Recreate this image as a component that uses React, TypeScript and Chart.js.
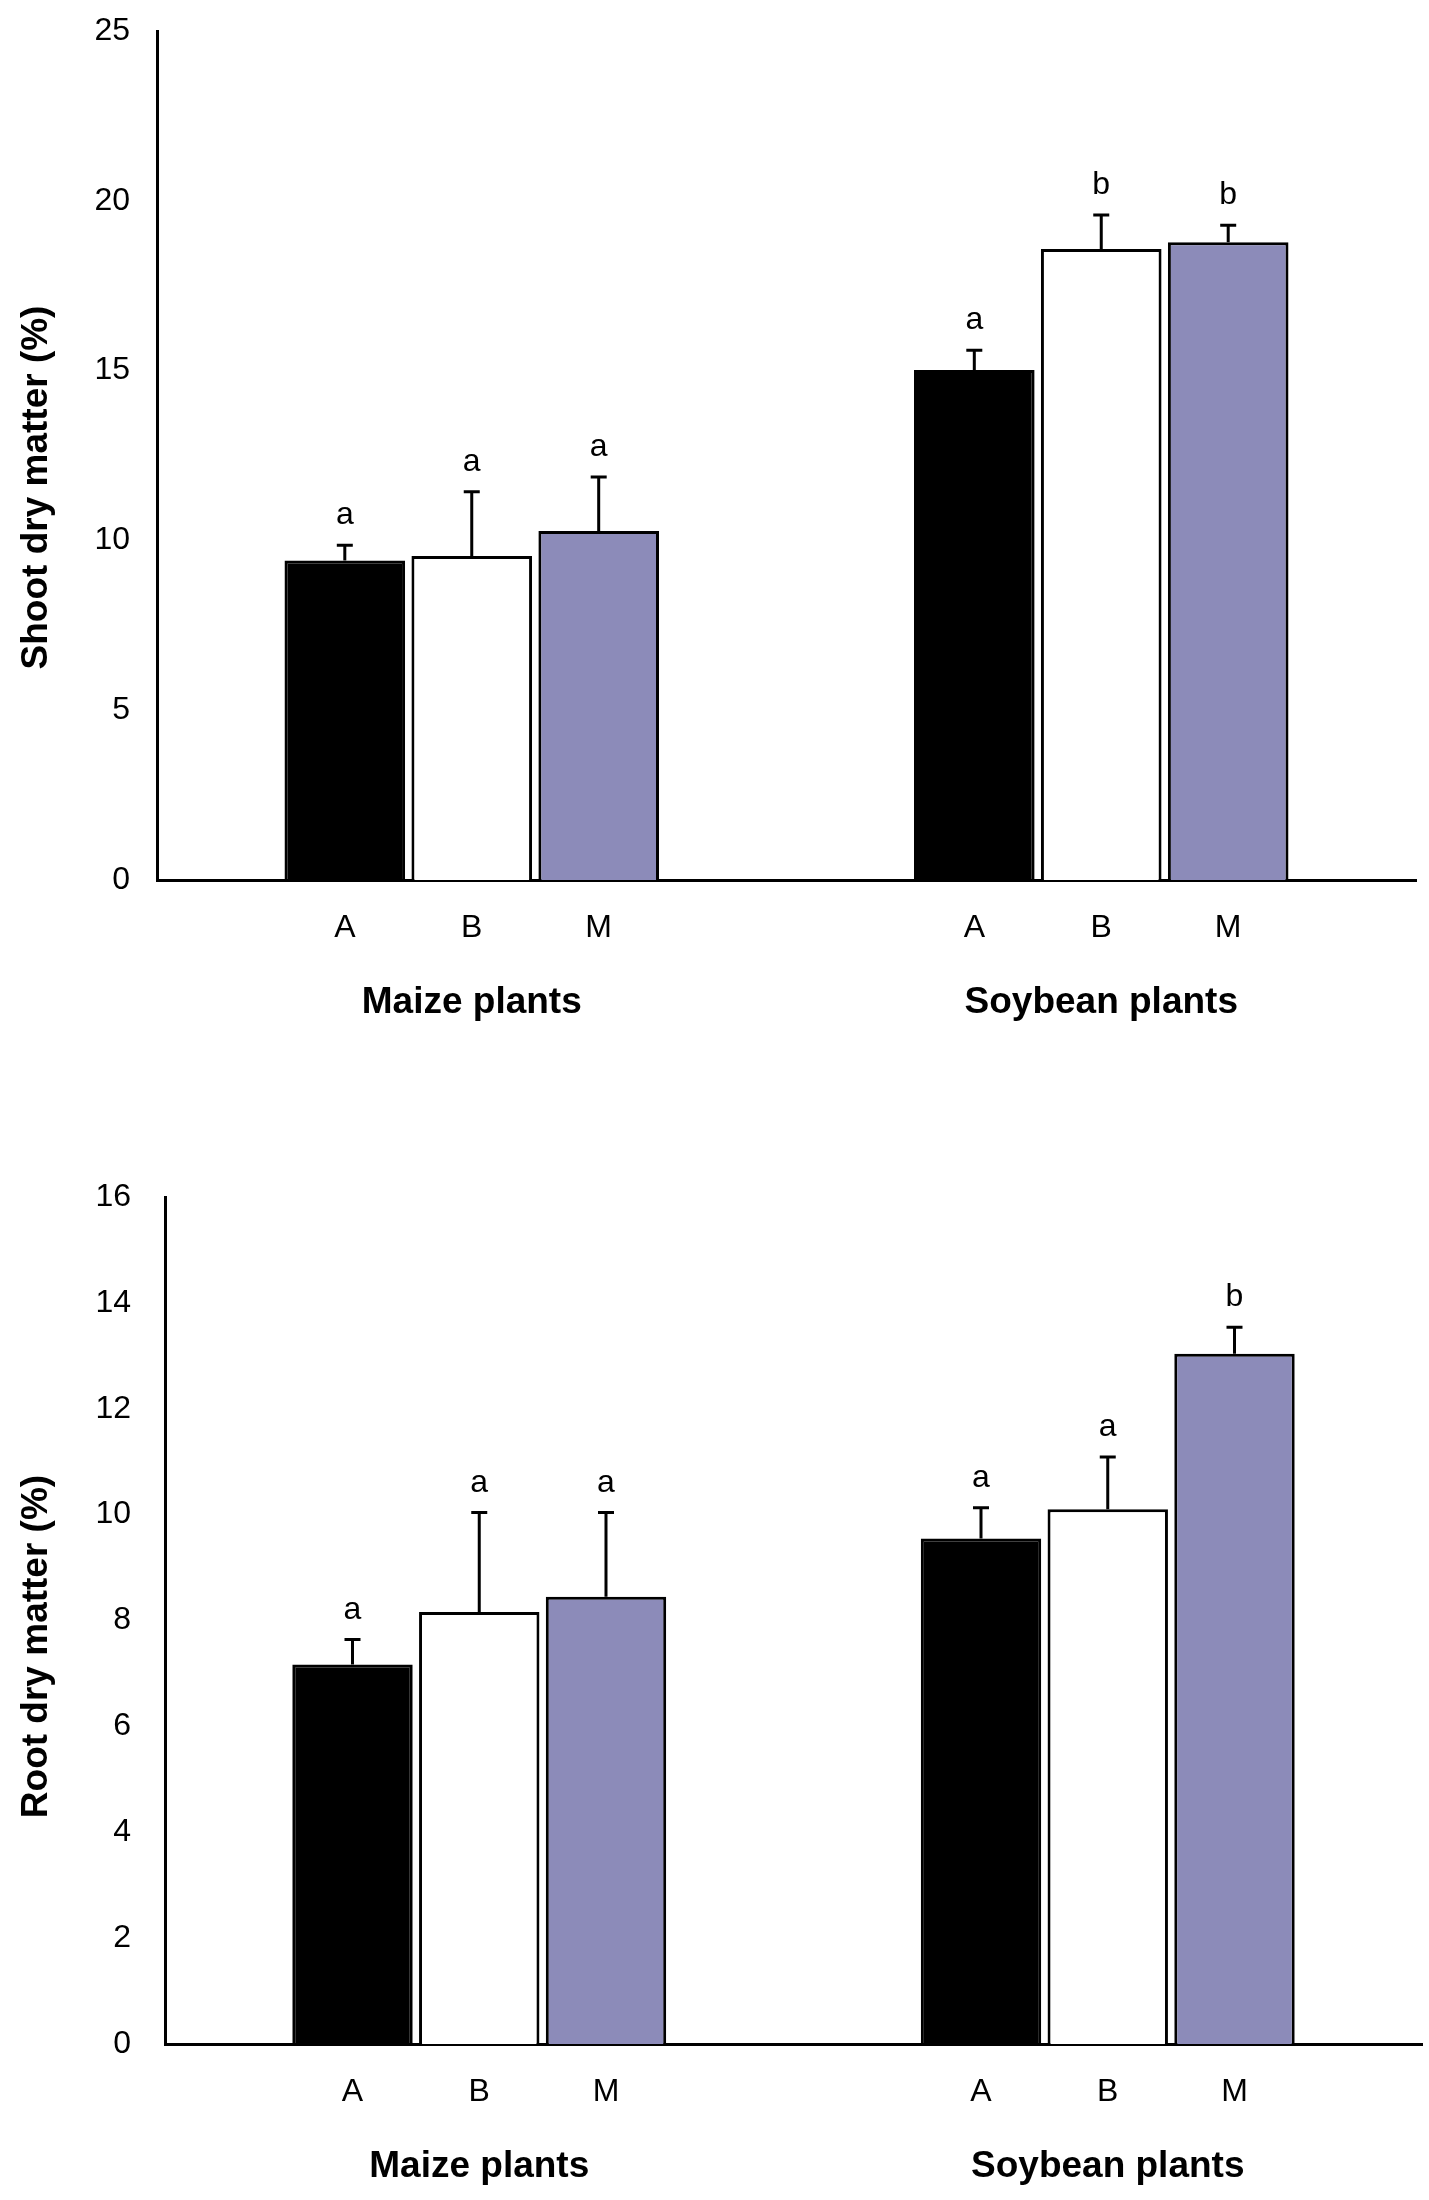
import { useEffect, useRef } from "react"
import { Chart, registerables } from "chart.js"

Chart.register(...registerables)

const FONT = "'Liberation Sans', Arial, sans-serif"

// categories and treatments
const groups = ["Maize plants", "Soybean plants"]
const treatments = ["A", "B", "M"]
const barColors = ["#000000", "#ffffff", "#8c8bb9"]

// shoot dry matter (%)
const shootA = [9.41, 15.02]
const shootB = [9.54, 18.58]
const shootM = [10.28, 18.78]
const shootErrA = [0.45, 0.58]
const shootErrB = [1.89, 1.0]
const shootErrM = [1.59, 0.5]
const shootLettersA = ["a", "a"]
const shootLettersB = ["a", "b"]
const shootLettersM = ["a", "b"]

// root dry matter (%)
const rootA = [7.17, 9.55]
const rootB = [8.16, 10.1]
const rootM = [8.45, 13.04]
const rootErrA = [0.47, 0.58]
const rootErrB = [1.88, 0.99]
const rootErrM = [1.59, 0.5]
const rootLettersA = ["a", "a"]
const rootLettersB = ["a", "a"]
const rootLettersM = ["a", "b"]

type PanelProps = {
  title: string
  values: number[][]
  errors: number[][]
  letters: string[][]
  yMax: number
  yStep: number
  height: number
  axisWidth: number
  tickGap: number
  pad: { top: number; bottom: number; right: number }
  catPct: number
  titleShift: number
}

function makeAnnotations(p: PanelProps) {
  return {
    id: "annotations",
    afterDatasetsDraw(chart: any) {
      const ctx = chart.ctx
      const yScale = chart.scales.y
      const xScale = chart.scales.x
      const area = chart.chartArea
      ctx.save()
      ctx.fillStyle = "#000"
      ctx.strokeStyle = "#000"
      ctx.lineWidth = 3
      ctx.textAlign = "center"
      ctx.textBaseline = "alphabetic"

      p.values.forEach((series, di) => {
        const meta = chart.getDatasetMeta(di)
        series.forEach((v, i) => {
          const x = meta.data[i].x
          const top = yScale.getPixelForValue(v)
          const errTop = yScale.getPixelForValue(v + p.errors[di][i])
          // error bar, upper half only
          ctx.beginPath()
          ctx.moveTo(x, top)
          ctx.lineTo(x, errTop)
          ctx.moveTo(x - 8, errTop)
          ctx.lineTo(x + 8, errTop)
          ctx.stroke()
          ctx.font = `32px ${FONT}`
          ctx.fillText(p.letters[di][i], x, errTop - 21)
          ctx.fillText(treatments[di], x, area.bottom + 57)
        })
      })

      ctx.font = `bold 37px ${FONT}`
      groups.forEach((g, i) => {
        ctx.fillText(g, xScale.getPixelForValue(i), area.bottom + 133)
      })

      // y axis title
      ctx.translate(47, (area.top + area.bottom) / 2 + p.titleShift)
      ctx.rotate(-Math.PI / 2)
      ctx.fillText(p.title, 0, 0)
      ctx.restore()
    },
  }
}

function BarPanel(p: PanelProps) {
  const chartRef = useRef<HTMLCanvasElement>(null)
  const chartInstance = useRef<Chart | null>(null)

  useEffect(() => {
    if (!chartRef.current) return
    if (chartInstance.current) chartInstance.current.destroy()

    const ctx = chartRef.current.getContext("2d")
    if (!ctx) return

    chartInstance.current = new Chart(ctx, {
      type: "bar",
      data: {
        labels: groups,
        datasets: treatments.map((t, i) => ({
          label: t,
          data: p.values[i],
          backgroundColor: barColors[i],
          borderColor: "#000000",
          borderWidth: 3,
          categoryPercentage: p.catPct,
          barPercentage: 0.95,
        })),
      },
      options: {
        responsive: false,
        animation: false,
        devicePixelRatio: 1,
        layout: {
          padding: { left: 0, top: p.pad.top, bottom: p.pad.bottom, right: p.pad.right },
        },
        plugins: {
          legend: { display: false },
          tooltip: { enabled: false },
          title: { display: false },
        },
        scales: {
          x: {
            grid: { display: false },
            border: { display: true, color: "#000", width: 3 },
            ticks: { display: false },
            afterFit: (scale: any) => {
              scale.height = 0
              scale.paddingLeft = 0
              scale.paddingRight = 0
            },
          },
          y: {
            min: 0,
            max: p.yMax,
            grid: { display: false, drawTicks: false },
            border: { display: true, color: "#000", width: 3 },
            ticks: {
              stepSize: p.yStep,
              padding: p.tickGap,
              color: "#000",
              font: { family: FONT, size: 32 },
            },
            afterFit: (scale: any) => {
              scale.width = p.axisWidth
              scale.paddingTop = 0
              scale.paddingBottom = 0
            },
          },
        },
      },
      plugins: [makeAnnotations(p)],
    })

    return () => {
      if (chartInstance.current) {
        chartInstance.current.destroy()
        chartInstance.current = null
      }
    }
  }, [])

  return (
    <canvas
      ref={chartRef}
      width={1429}
      height={p.height}
      style={{ display: "block", width: 1429, height: p.height }}
    />
  )
}

export default function App() {
  useEffect(() => {
    document.body.style.margin = "0"
    document.body.style.background = "#fff"
  }, [])

  return (
    <div style={{ width: 1429, height: 2200, background: "#fff" }}>
      <BarPanel
        title="Shoot dry matter (%)"
        values={[shootA, shootB, shootM]}
        errors={[shootErrA, shootErrB, shootErrM]}
        letters={[shootLettersA, shootLettersB, shootLettersM]}
        yMax={25}
        yStep={5}
        height={1060}
        axisWidth={157}
        tickGap={27}
        pad={{ top: 31, bottom: 180, right: 13 }}
        catPct={0.605}
        titleShift={32}
      />
      <BarPanel
        title="Root dry matter (%)"
        values={[rootA, rootB, rootM]}
        errors={[rootErrA, rootErrB, rootErrM]}
        letters={[rootLettersA, rootLettersB, rootLettersM]}
        yMax={16}
        yStep={2}
        height={1140}
        axisWidth={165}
        tickGap={34}
        pad={{ top: 137, bottom: 156, right: 7 }}
        catPct={0.605}
        titleShift={26}
      />
    </div>
  )
}
